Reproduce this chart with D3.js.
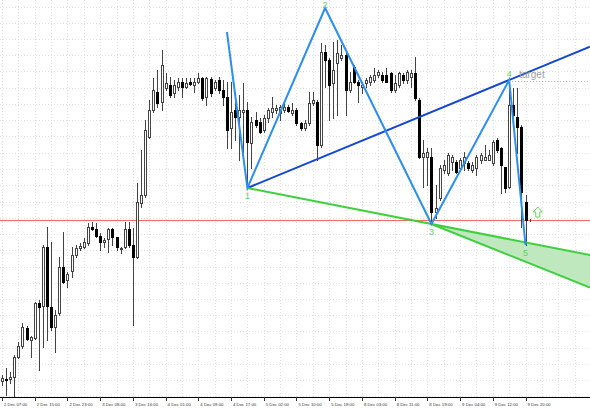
<!DOCTYPE html>
<html>
<head>
<meta charset="utf-8">
<script src="https://cdn.jsdelivr.net/npm/d3@7"></script>
<style>
    body { margin: 0; background: #fff; }
    svg { display: block; font-family: "Liberation Sans", Arial, sans-serif; }
    .grid line { stroke: #e0e0e0; stroke-dasharray: 1,2; shape-rendering: crispEdges; }
    .wick { stroke: #444; stroke-width: 1; shape-rendering: crispEdges; }
    .body { stroke-width: 1; shape-rendering: crispEdges; }
    .axis--x text { font-size: 4.3px; fill: #333; }
    .axis--x line { stroke: #333; shape-rendering: crispEdges; }
    .pt-label { font-size: 9px; fill: #5fcf5f; }
</style>
</head>
<body>
<div id="chart"></div>
<script>

// EURUSD H1, 2 Dec 07:00 .. 9 Dec 21:00
var opens = [
    1.2119,1.2121,1.2121,1.2123,1.2143,1.2154,1.2172,1.2160,1.2162,1.2197,
    1.2194,1.2253,1.2193,1.2173,1.2187,1.2233,1.2220,1.2229,1.2245,1.2252,
    1.2253,1.2257,1.2273,1.2271,1.2264,1.2258,1.2261,1.2271,1.2263,1.2251,
    1.2253,1.2271,1.2255,1.2243,1.2297,1.2305,1.2363,1.2390,1.2408,1.2398,
    1.2412,1.2415,1.2407,1.2413,1.2418,1.2413,1.2418,1.2415,1.2418,1.2422,
    1.2403,1.2421,1.2412,1.2420,1.2410,1.2403,1.2372,1.2390,1.2383,1.2388,
    1.2390,1.2357,1.2380,1.2378,1.2370,1.2382,1.2388,1.2390,1.2387,1.2390,
    1.2393,1.2387,1.2390,1.2377,1.2372,1.2377,1.2397,1.2398,1.2355,1.2448,
    1.2440,1.2417,1.2437,1.2442,1.2445,1.2410,1.2433,1.2418,1.2413,1.2417,
    1.2418,1.2420,1.2425,1.2425,1.2425,1.2427,1.2410,1.2415,1.2425,1.2420,
    1.2423,1.2427,1.2400,1.2343,1.2343,1.2343,1.2288,1.2302,1.2330,1.2327,
    1.2338,1.2338,1.2332,1.2337,1.2337,1.2330,1.2332,1.2340,1.2340,1.2340,
    1.2337,1.2360,1.2352,1.2333,1.2313,1.2395,1.2383,1.2373,1.2298,1.2280
];
var highs = [
    1.2125,1.2132,1.2128,1.2145,1.2158,1.2177,1.2174,1.2164,1.2198,1.2200,
    1.2255,1.2273,1.2258,1.2190,1.2243,1.2268,1.2228,1.2253,1.2255,1.2257,
    1.2262,1.2277,1.2278,1.2277,1.2267,1.2262,1.2272,1.2272,1.2263,1.2253,
    1.2278,1.2278,1.2272,1.2317,1.2350,1.2380,1.2400,1.2422,1.2430,1.2450,
    1.2427,1.2423,1.2420,1.2422,1.2422,1.2422,1.2422,1.2422,1.2427,1.2423,
    1.2423,1.2423,1.2420,1.2423,1.2420,1.2418,1.2418,1.2405,1.2405,1.2417,
    1.2398,1.2383,1.2388,1.2382,1.2385,1.2392,1.2403,1.2395,1.2395,1.2398,
    1.2395,1.2397,1.2392,1.2378,1.2380,1.2408,1.2408,1.2400,1.2457,1.2455,
    1.2442,1.2458,1.2460,1.2455,1.2447,1.2428,1.2435,1.2420,1.2418,1.2422,
    1.2425,1.2432,1.2430,1.2428,1.2432,1.2428,1.2425,1.2428,1.2427,1.2430,
    1.2430,1.2443,1.2402,1.2360,1.2352,1.2352,1.2315,1.2335,1.2340,1.2347,
    1.2345,1.2340,1.2342,1.2348,1.2339,1.2338,1.2345,1.2347,1.2355,1.2350,
    1.2360,1.2362,1.2353,1.2333,1.2420,1.2412,1.2412,1.2375,1.2305,1.2281
];
var lows = [
    1.2115,1.2105,1.2117,1.2103,1.2142,1.2152,1.2160,1.2143,1.2161,1.2130,
    1.2153,1.2160,1.2170,1.2148,1.2185,1.2217,1.2213,1.2223,1.2243,1.2250,
    1.2252,1.2255,1.2270,1.2263,1.2250,1.2253,1.2248,1.2255,1.2250,1.2247,
    1.2252,1.2253,1.2175,1.2242,1.2293,1.2303,1.2362,1.2388,1.2393,1.2390,
    1.2410,1.2403,1.2403,1.2410,1.2403,1.2412,1.2415,1.2408,1.2417,1.2400,
    1.2395,1.2404,1.2410,1.2407,1.2395,1.2352,1.2352,1.2360,1.2340,1.2347,
    1.2312,1.2332,1.2373,1.2367,1.2368,1.2378,1.2383,1.2387,1.2380,1.2388,
    1.2388,1.2385,1.2375,1.2370,1.2370,1.2375,1.2395,1.2340,1.2353,1.2413,
    1.2380,1.2382,1.2385,1.2440,1.2385,1.2408,1.2417,1.2398,1.2407,1.2413,
    1.2415,1.2418,1.2423,1.2418,1.2418,1.2408,1.2408,1.2413,1.2417,1.2417,
    1.2413,1.2400,1.2342,1.2313,1.2315,1.2276,1.2282,1.2300,1.2327,1.2325,
    1.2330,1.2327,1.2330,1.2330,1.2330,1.2328,1.2325,1.2337,1.2340,1.2340,
    1.2335,1.2348,1.2307,1.2308,1.2312,1.2382,1.2347,1.2273,1.2255,1.2279
];
var closes = [
    1.2122,1.2120,1.2123,1.2143,1.2154,1.2173,1.2161,1.2163,1.2197,1.2193,
    1.2253,1.2194,1.2173,1.2185,1.2233,1.2218,1.2226,1.2245,1.2252,1.2254,
    1.2258,1.2273,1.2271,1.2264,1.2258,1.2260,1.2271,1.2263,1.2253,1.2252,
    1.2271,1.2255,1.2243,1.2298,1.2305,1.2370,1.2390,1.2410,1.2397,1.2435,
    1.2417,1.2405,1.2415,1.2418,1.2413,1.2417,1.2416,1.2418,1.2422,1.2402,
    1.2422,1.2407,1.2418,1.2410,1.2403,1.2370,1.2388,1.2383,1.2390,1.2390,
    1.2358,1.2378,1.2375,1.2368,1.2382,1.2390,1.2392,1.2392,1.2393,1.2393,
    1.2389,1.2390,1.2377,1.2372,1.2377,1.2397,1.2400,1.2355,1.2448,1.2440,
    1.2415,1.2430,1.2447,1.2445,1.2410,1.2418,1.2418,1.2415,1.2415,1.2420,
    1.2423,1.2425,1.2428,1.2420,1.2418,1.2410,1.2417,1.2427,1.2420,1.2428,
    1.2427,1.2402,1.2343,1.2347,1.2348,1.2288,1.2292,1.2332,1.2335,1.2345,
    1.2343,1.2328,1.2340,1.2343,1.2332,1.2335,1.2343,1.2345,1.2343,1.2345,
    1.2358,1.2350,1.2335,1.2312,1.2395,1.2385,1.2373,1.2308,1.2280,1.2280
];

var timeTickBars = [0, 8, 16, 24, 32, 40, 48, 56, 64, 72, 80, 88, 96, 104, 112, 120, 128];
var timeTickLabels = ["2 Dec 07:00", "2 Dec 15:00", "2 Dec 23:00", "3 Dec 08:00", "3 Dec 16:00",
    "4 Dec 01:00", "4 Dec 09:00", "4 Dec 17:00", "5 Dec 02:00", "5 Dec 10:00", "5 Dec 18:00",
    "8 Dec 03:00", "8 Dec 11:00", "8 Dec 19:00", "9 Dec 04:00", "9 Dec 12:00", "9 Dec 20:00"];

// wolfe wave points (bar index, price)
var wolfeBars = [55, 60, 79, 105, 124, 128];
var wolfePrices = [1.2468, 1.2312, 1.2492, 1.2276, 1.2420, 1.2255];
var wolfeLabels = ["", "1", "2", "3", "4", "5"];

var zoneEndBar = 144, zoneEndPrice = 1.2212;
var signalBar = 131, signalPrice = 1.2288;

var width = 590
    , height = 410
    , plotBottom = 397;

var svg = d3.select("#chart")
    .append("svg")
    .attr("width", width)
    .attr("height", height);

var x = d3.scaleLinear()
    .domain([0, opens.length - 1])
    .range([2, 529.6]);

var y = d3.scaleLinear()
    .domain([1.2103, 1.2500])
    .range([plotBottom, 0]);

var lastBar = x.invert(width);

// grid
var grid = svg.append("g").attr("class", "grid");

grid.selectAll(".vgrid")
    .data(d3.range(0, lastBar, 4))
    .enter().append("line")
    .attr("x1", function(d) { return Math.round(x(d)) + 0.5; })
    .attr("x2", function(d) { return Math.round(x(d)) + 0.5; })
    .attr("y1", 0)
    .attr("y2", plotBottom);

grid.selectAll(".hgrid")
    .data(d3.range(0, 25).map(function(k) { return 1.24935 - k * 0.001625; }))
    .enter().append("line")
    .attr("x1", 0)
    .attr("x2", width)
    .attr("y1", function(d) { return Math.round(y(d)) + 0.5; })
    .attr("y2", function(d) { return Math.round(y(d)) + 0.5; });

// green target zone
function lineAt(b0, p0, b1, p1, b) {
    return p0 + (p1 - p0) * (b - b0) / (b1 - b0);
}

var zone = [
    [wolfeBars[3], wolfePrices[3]],
    [lastBar, lineAt(wolfeBars[1], wolfePrices[1], wolfeBars[3], wolfePrices[3], lastBar)],
    [lastBar, lineAt(wolfeBars[3], wolfePrices[3], zoneEndBar, zoneEndPrice, lastBar)]
];

svg.append("path")
    .datum(zone)
    .attr("fill", "#bfe8bf")
    .attr("d", d3.line()
        .x(function(d) { return x(d[0]); })
        .y(function(d) { return y(d[1]); }));

// last price line
var lastPrice = closes[closes.length - 1];
svg.append("line")
    .attr("x1", 0)
    .attr("x2", width)
    .attr("y1", Math.round(y(lastPrice)) + 0.5)
    .attr("y2", Math.round(y(lastPrice)) + 0.5)
    .attr("stroke", "#f06a6a")
    .attr("stroke-width", 1);

// candles
var bars = d3.range(opens.length);
var g = svg.append("g");

g.selectAll(".wick")
    .data(bars)
    .enter().append("line")
    .attr("class", "wick")
    .attr("x1", function(i) { return Math.round(x(i)) + 0.5; })
    .attr("x2", function(i) { return Math.round(x(i)) + 0.5; })
    .attr("y1", function(i) { return Math.round(y(highs[i])); })
    .attr("y2", function(i) { return Math.round(y(lows[i])) + 1; });

g.selectAll(".body")
    .data(bars)
    .enter().append("rect")
    .attr("class", "body")
    .attr("x", function(i) { return Math.round(x(i)) - 0.5; })
    .attr("width", 2)
    .attr("y", function(i) { return Math.round(y(Math.max(opens[i], closes[i]))) + 0.5; })
    .attr("height", function(i) {
        return Math.abs(Math.round(y(opens[i])) - Math.round(y(closes[i])));
    })
    .attr("fill", function(i) { return closes[i] >= opens[i] ? "#fff" : "#000"; })
    .attr("stroke", function(i) { return closes[i] >= opens[i] ? "#444" : "#000"; });

// wolfe lines
var p1 = [wolfeBars[1], wolfePrices[1]]
    , p3 = [wolfeBars[3], wolfePrices[3]]
    , p4 = [wolfeBars[4], wolfePrices[4]];

var seg = d3.line()
    .x(function(d) { return x(d[0]); })
    .y(function(d) { return y(d[1]); });

svg.append("path")
    .datum([p1, [lastBar, lineAt(p1[0], p1[1], p4[0], p4[1], lastBar)]])
    .attr("fill", "none")
    .attr("stroke", "#1446d2")
    .attr("stroke-width", 2)
    .attr("d", seg);

svg.append("path")
    .datum([p1, [lastBar, lineAt(p1[0], p1[1], p3[0], p3[1], lastBar)]])
    .attr("fill", "none")
    .attr("stroke", "#3fcf3f")
    .attr("stroke-width", 2)
    .attr("d", seg);

svg.append("path")
    .datum([p3, [lastBar, lineAt(p3[0], p3[1], zoneEndBar, zoneEndPrice, lastBar)]])
    .attr("fill", "none")
    .attr("stroke", "#3fcf3f")
    .attr("stroke-width", 2)
    .attr("d", seg);

svg.append("path")
    .datum(wolfeBars.map(function(b, i) { return [b, wolfePrices[i]]; }))
    .attr("fill", "none")
    .attr("stroke", "#2a8ff0")
    .attr("stroke-width", 2)
    .attr("stroke-linejoin", "miter")
    .attr("d", seg);

// target level
svg.append("line")
    .attr("x1", x(p4[0]))
    .attr("x2", width)
    .attr("y1", Math.round(y(p4[1])) + 1.5)
    .attr("y2", Math.round(y(p4[1])) + 1.5)
    .attr("stroke", "#aaa")
    .attr("stroke-dasharray", "1,2");

svg.append("text")
    .attr("x", x(p4[0]) + 10)
    .attr("y", y(p4[1]) - 2)
    .attr("font-size", "10px")
    .attr("fill", "#a0a0a0")
    .text("target");

// point labels
svg.selectAll(".pt-label")
    .data(wolfeBars.slice(1))
    .enter().append("text")
    .attr("class", "pt-label")
    .attr("text-anchor", "middle")
    .attr("x", function(b) { return x(b); })
    .attr("y", function(b, i) {
        var k = i + 1
            , up = wolfePrices[k] > wolfePrices[k - 1];
        return Math.max(8, y(wolfePrices[k]) + (up ? -3 : 11));
    })
    .text(function(b, i) { return wolfeLabels[i + 1]; });

// signal arrow
svg.append("path")
    .attr("transform", "translate(" + x(signalBar) + "," + y(signalPrice) + ")")
    .attr("d", "M0,-5 L4.5,0 L2,0 L2,5 L-2,5 L-2,0 L-4.5,0 Z")
    .attr("fill", "#fff")
    .attr("stroke", "#5fd55f")
    .attr("stroke-width", 1);

// time axis
svg.append("line")
    .attr("x1", 0)
    .attr("x2", width)
    .attr("y1", plotBottom + 0.5)
    .attr("y2", plotBottom + 0.5)
    .attr("stroke", "#000")
    .attr("shape-rendering", "crispEdges");

var xAxis = d3.axisBottom(x)
    .tickValues(timeTickBars)
    .tickSizeOuter(0)
    .tickSizeInner(4)
    .tickPadding(2)
    .tickFormat(function(d, i) { return timeTickLabels[i]; });

var gx = svg.append("g")
    .attr("class", "axis axis--x")
    .attr("transform", "translate(0," + plotBottom + ")")
    .call(xAxis);

gx.select(".domain").remove();
gx.selectAll("text")
    .attr("text-anchor", "start")
    .attr("x", 1.5)
    .attr("dy", "0.6em");

</script>
</body>
</html>
